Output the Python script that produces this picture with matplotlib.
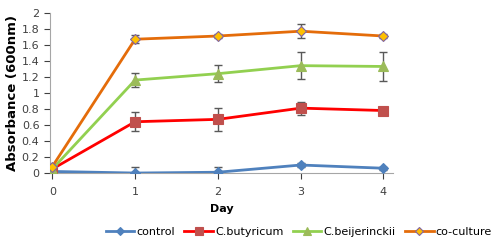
import numpy as np
import matplotlib.pyplot as plt

days = [0, 1, 2, 3, 4]
control = [0.02, 0.0, 0.01, 0.10, 0.06]
control_err = [0.02, 0.08, 0.07, 0.03, 0.02]
butyricum = [0.05, 0.64, 0.67, 0.81, 0.78]
butyricum_err = [0.02, 0.12, 0.14, 0.08, 0.05]
beijerinckii = [0.05, 1.16, 1.24, 1.34, 1.33]
beijerinckii_err = [0.02, 0.09, 0.11, 0.17, 0.18]
coculture = [0.08, 1.67, 1.71, 1.77, 1.71]
coculture_err = [0.02, 0.05, 0.02, 0.09, 0.02]

series = [
    ('control', control, control_err, '#4F81BD', 'D', '#4F81BD', '#4F81BD', 5),
    ('C.butyricum', butyricum, butyricum_err, '#FF0000', 's', '#C0504D', '#C0504D', 7),
    ('C.beijerinckii', beijerinckii, beijerinckii_err, '#92D050', '^', '#9BBB59', '#9BBB59', 7),
    ('co-culture', coculture, coculture_err, '#E46C0A', 'D', '#FFC000', '#8064A2', 5),
]

fig = plt.figure(figsize=(4.98, 2.41), dpi=100)
ax = fig.add_axes([0.1, 0.282, 0.69, 0.665])

for name, y, e, lc, m, mfc, mec, ms in series:
    ax.errorbar(days, y, yerr=e, fmt='none', ecolor='#595959', elinewidth=1,
                capsize=3, capthick=1, zorder=2)
    ax.plot(days, y, color=lc, lw=2, marker=m, markersize=ms,
            markerfacecolor=mfc, markeredgecolor=mec, markeredgewidth=0.8,
            label=name, zorder=3)

ax.set_xlim(-0.03, 4.12)
ax.set_ylim(0, 2)
ax.set_xticks(days)
ax.set_yticks(np.arange(0, 2.01, 0.2))
ax.set_yticklabels(['0', '0.2', '0.4', '0.6', '0.8', '1', '1.2', '1.4', '1.6', '1.8', '2'])
ax.tick_params(labelsize=8, colors='#404040', length=4, width=0.8)
ax.tick_params(axis='x', pad=6)
for s in ['top', 'right']:
    ax.spines[s].set_visible(False)
for s in ['left', 'bottom']:
    ax.spines[s].set_color('#A6A6A6')
ax.set_xlabel('Day', fontsize=8, fontweight='bold', labelpad=5)
ax.set_ylabel('Absorbance (600nm)', fontsize=9.5, fontweight='bold', labelpad=2)

fig.legend(loc='lower center', bbox_to_anchor=(0.6, -0.025), ncol=4, frameon=False,
           fontsize=8, handlelength=2.6, handletextpad=0.2, columnspacing=0.8,
           markerscale=0.8)

fig.savefig('out.png', dpi=100)
